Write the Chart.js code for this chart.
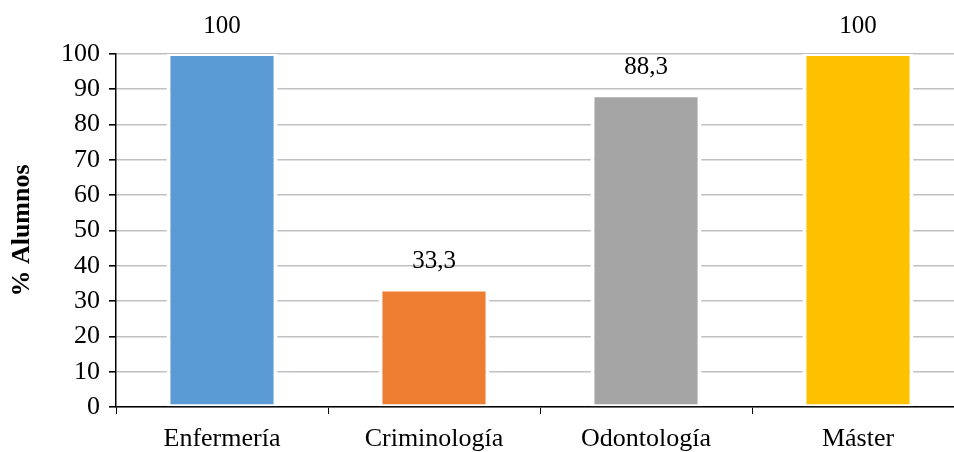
<!DOCTYPE html>
<html>
<head>
<meta charset="utf-8">
<script src="https://cdn.jsdelivr.net/npm/chart.js@4.4.1/dist/chart.umd.min.js"></script>
<style>
  html, body { margin: 0; padding: 0; background: #fff; width: 954px; height: 452px; overflow: hidden; }
  #frame { width: 954px; height: 452px; overflow: hidden; position: relative; }
  #c { display: block; position: absolute; left: 0; top: 0; }
</style>
</head>
<body>
<div id="frame">
<canvas id="c" width="964" height="452" style="width:964px;height:452px"></canvas>
</div>
<script>
const categories = ['Enfermería', 'Criminología', 'Odontología', 'Máster'];
const percentValues = [100, 33.3, 88.3, 100];
const barColors = ['#5B9BD5', '#ED7D31', '#A5A5A5', '#FFC000'];
const yTicks = [0, 10, 20, 30, 40, 50, 60, 70, 80, 90, 100];

const serif = '"Liberation Serif", "Times New Roman", serif';

// Writes each bar's value above it, with a decimal comma
const valueLabels = {
  id: 'valueLabels',
  afterDatasetsDraw(chart) {
    const ctx = chart.ctx;
    const meta = chart.getDatasetMeta(0);
    ctx.save();
    ctx.font = '25px ' + serif;
    ctx.fillStyle = '#000';
    ctx.textAlign = 'center';
    ctx.textBaseline = 'middle';
    meta.data.forEach((bar, i) => {
      const v = chart.data.datasets[0].data[i];
      const txt = String(v).replace('.', ',');
      ctx.fillText(txt, bar.x, bar.y - 28);
    });
    ctx.restore();
  }
};

new Chart(document.getElementById('c'), {
  type: 'bar',
  data: {
    labels: categories,
    datasets: [{
      data: percentValues,
      backgroundColor: barColors,
      borderColor: '#ffffff',
      borderWidth: { left: 4, right: 4, top: 2, bottom: 2 },
      borderSkipped: false,
      barPercentage: 0.524,
      categoryPercentage: 1.0
    }]
  },
  options: {
    responsive: false,
    animation: false,
    layout: { padding: { top: 54, right: 0, left: 0, bottom: 0 } },
    plugins: {
      legend: { display: false },
      tooltip: { enabled: false }
    },
    scales: {
      x: {
        offset: true,
        afterFit(scale) { scale.height = 45; },
        grid: {
          display: true,
          drawOnChartArea: false,
          drawTicks: true,
          tickLength: 7,
          tickColor: '#000',
          offset: true
        },
        border: { display: true, color: '#000', width: 1.5 },
        ticks: {
          color: '#000',
          font: { family: serif, size: 26 },
          padding: 10
        }
      },
      y: {
        min: 0,
        max: 100,
        afterFit(scale) { scale.width = 116; },
        afterBuildTicks(axis) { axis.ticks = yTicks.map(v => ({ value: v })); },
        grid: {
          color: '#c0c0c0',
          lineWidth: 1.6,
          drawTicks: true,
          tickLength: 7,
          tickColor: '#000'
        },
        border: { display: true, color: '#000', width: 1.5 },
        ticks: {
          color: '#000',
          font: { family: serif, size: 26 },
          padding: 9
        },
        title: {
          display: true,
          text: '% Alumnos',
          color: '#000',
          font: { family: serif, size: 26, weight: 'bold' },
          padding: { top: 7, bottom: 13 }
        }
      }
    }
  },
  plugins: [valueLabels]
});
</script>
</body>
</html>
